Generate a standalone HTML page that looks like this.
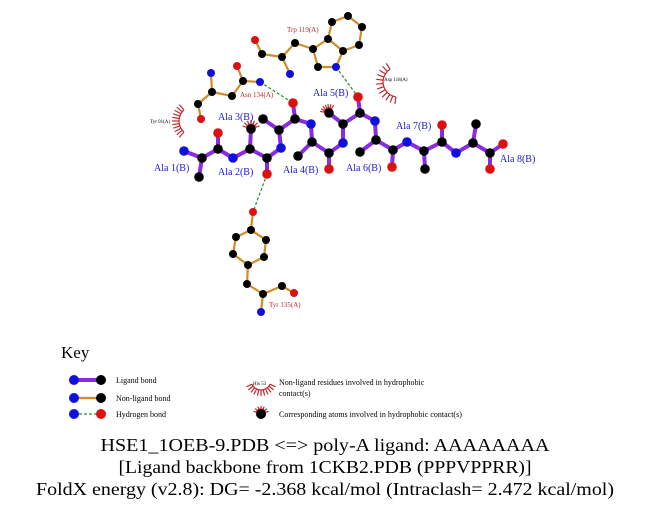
<!DOCTYPE html>
<html><head><meta charset="utf-8"><style>
html,body{margin:0;padding:0;background:#fff;}
svg{display:block;font-family:"Liberation Serif",serif;}
</style></head><body>
<svg id="s" width="651" height="511" viewBox="0 0 651 511" xmlns="http://www.w3.org/2000/svg">
<g id="hb" stroke="#2a8a2a" stroke-width="1.2" stroke-dasharray="3,2" fill="none">
<line x1="260" y1="82" x2="293" y2="103"/>
<line x1="336" y1="67" x2="358" y2="97"/>
<line x1="267" y1="174" x2="253" y2="212"/>
</g>
<g id="bonds" stroke-linecap="round"></g>
<g id="arcs" stroke="#c0282a" stroke-width="1.2" fill="none"></g>
<g id="atoms"></g>
<g font-size="10" fill="#1a1acc">
<text x="154" y="171">Ala 1(B)</text>
<text x="218" y="175">Ala 2(B)</text>
<text x="218" y="120">Ala 3(B)</text>
<text x="283" y="173">Ala 4(B)</text>
<text x="313" y="96">Ala 5(B)</text>
<text x="346" y="171">Ala 6(B)</text>
<text x="396" y="129">Ala 7(B)</text>
<text x="500" y="162">Ala 8(B)</text>
</g>
<g font-size="7" fill="#c0282a">
<text x="287" y="32">Trp 119(A)</text>
<text x="240" y="97">Asn 134(A)</text>
<text x="269" y="307">Tyr 135(A)</text>
</g>
<g font-size="5" fill="#000">
<text x="150" y="123">Tyr 91(A)</text>
<text x="384" y="81">Asp 118(A)</text>
<text x="253" y="385">His 53</text>
</g>
<text x="61" y="358" font-size="17">Key</text>
<g font-size="8" fill="#000">
<text x="116" y="383">Ligand bond</text>
<text x="116" y="401">Non-ligand bond</text>
<text x="116" y="417">Hydrogen bond</text>
<text x="279" y="385">Non-ligand residues involved in hydrophobic</text>
<text x="279" y="396">contact(s)</text>
<text x="279" y="417">Corresponding atoms involved in hydrophobic contact(s)</text>
</g>
<g font-size="18" fill="#000" text-anchor="middle">
<text x="325" y="451" textLength="449" lengthAdjust="spacingAndGlyphs">HSE1_1OEB-9.PDB &lt;=&gt; poly-A ligand: AAAAAAAA</text>
<text x="325" y="473" textLength="413" lengthAdjust="spacingAndGlyphs">[Ligand backbone from 1CKB2.PDB (PPPVPPRR)]</text>
<text x="325" y="495" textLength="578" lengthAdjust="spacingAndGlyphs">FoldX energy (v2.8): DG= -2.368 kcal/mol (Intraclash= 2.472 kcal/mol)</text>
</g>
</svg>
<script>
var NS="http://www.w3.org/2000/svg";
function el(p,t,a){var e=document.createElementNS(NS,t);for(var k in a)e.setAttribute(k,a[k]);document.getElementById(p).appendChild(e);return e;}
var col={C:"#000",N:"#1010dd",O:"#dd1010"};
var L={
n1:[184,151,'N'],a1:[202,158,'C'],b1:[199,177,'C'],c1:[218,149,'C'],o1:[218,133,'O'],
n2:[233,158,'N'],a2:[250,149,'C'],b2:[251,129,'C'],c2:[267,158,'C'],o2:[267,174,'O'],
n3:[281,148,'N'],a3:[279,130,'C'],b3:[263,119,'C'],c3:[295,119,'C'],o3:[293,103,'O'],
n4:[311,124,'N'],a4:[312,142,'C'],b4:[298,156,'C'],c4:[329,153,'C'],o4:[329,169,'O'],
n5:[343,143,'N'],a5:[343,124,'C'],b5:[329,113,'C'],c5:[360,113,'C'],o5:[358,97,'O'],
n6:[375,121,'N'],a6:[376,140,'C'],b6:[360,152,'C'],c6:[393,150,'C'],o6:[392,167,'O'],
n7:[407,142,'N'],a7:[424,151,'C'],b7:[425,169,'C'],c7:[442,142,'C'],o7:[442,125,'O'],
n8:[456,153,'N'],a8:[473,143,'C'],b8:[476,124,'C'],c8:[490,153,'C'],o8:[503,144,'O'],o9:[490,169,'O']};
var LB=[];
for(var i=1;i<=8;i++){LB.push(['n'+i,'a'+i],['a'+i,'b'+i],['a'+i,'c'+i],['c'+i,'o'+i]);if(i<8)LB.push(['c'+i,'n'+(i+1)]);}
LB.push(['c8','o9']);
var P={
to:[255,40,'O'],t1:[262,54,'C'],t2:[282,57,'C'],tn:[290,74,'N'],t3:[295,43,'C'],t4:[313,49,'C'],t5:[328,39,'C'],
t6:[332,22,'C'],t7:[348,16,'C'],t8:[362,27,'C'],t9:[359,45,'C'],t10:[343,51,'C'],tne:[336,67,'N'],t11:[318,67,'C'],
sn:[211,73,'N'],s1:[212,92,'C'],s2:[232,96,'C'],s3:[243,81,'C'],so:[237,66,'O'],sn2:[260,82,'N'],s4:[198,104,'C'],so2:[201,119,'O'],
yo:[253,212,'O'],y1:[251,230,'C'],y2:[236,237,'C'],y3:[233,254,'C'],y4:[248,265,'C'],y5:[264,257,'C'],y6:[266,240,'C'],
y7:[247,284,'C'],y8:[263,294,'C'],y9:[282,286,'C'],yo2:[294,293,'O'],yn:[261,312,'N']};
var PB=[['to','t1'],['t1','t2'],['t2','tn'],['t2','t3'],['t3','t4'],['t4','t5'],['t5','t10'],['t10','tne'],['tne','t11'],['t11','t4'],
['t5','t6'],['t6','t7'],['t7','t8'],['t8','t9'],['t9','t10'],
['sn','s1'],['s1','s2'],['s2','s3'],['s3','so'],['s3','sn2'],['s1','s4'],['s4','so2'],
['yo','y1'],['y1','y2'],['y2','y3'],['y3','y4'],['y4','y5'],['y5','y6'],['y6','y1'],['y4','y7'],['y7','y8'],['y8','y9'],['y9','yo2'],['y8','yn']];
function bond(A,B,c,w){el('bonds','line',{x1:A[0],y1:A[1],x2:B[0],y2:B[1],stroke:c,'stroke-width':w});}
PB.forEach(function(b){bond(P[b[0]],P[b[1]],"#d08c28",2.2);});
LB.forEach(function(b){bond(L[b[0]],L[b[1]],"#8a2be2",4);});
function atom(a,r){el('atoms','circle',{cx:a[0],cy:a[1],r:r||4.5,fill:col[a[2]]});}
for(var k in P)atom(P[k],4);
for(var k in L)atom(L[k],4.8);
bond([74,380],[101,380],"#8a2be2",4);bond([74,398],[101,398],"#d08c28",2.2);
el('hb','line',{x1:74,y1:414,x2:101,y2:414});
atom([74,380,'N'],5);atom([101,380,'C'],5);atom([74,398,'N'],5);atom([101,398,'C'],5);atom([74,414,'N'],5);atom([101,414,'O'],5);
atom([261,414,'C'],5);
function arc(cx,cy,r,a0,a1,n,sp){var d="";for(var i=0;i<=n;i++){var a=(a0+(a1-a0)*i/n)*Math.PI/180;var x=cx+r*Math.cos(a),y=cy+r*Math.sin(a);d+=(i?"L":"M")+x.toFixed(1)+" "+y.toFixed(1);}
el('arcs','path',{d:d});
for(var i=0;i<=n;i++){var a=(a0+(a1-a0)*i/n)*Math.PI/180;el('arcs','line',{x1:cx+r*Math.cos(a),y1:cy+r*Math.sin(a),x2:cx+(r+sp)*Math.cos(a),y2:cy+(r+sp)*Math.sin(a)});}}
arc(194,121,15,228,132,10,7);
arc(398,82,15,238,98,11,7);
arc(261,380,10,25,155,10,6);
arc(251,129,5,200,340,6,4);
arc(329,113,5,190,300,6,4);
arc(261,414,5,200,340,6,3);
</script>
</body></html>
